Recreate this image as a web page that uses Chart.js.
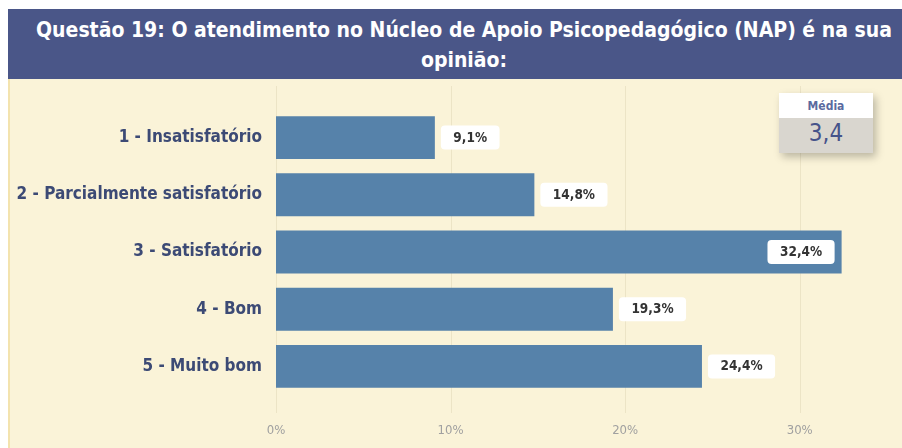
<!DOCTYPE html>
<html>
<head>
<meta charset="utf-8">
<script src="https://cdn.jsdelivr.net/npm/chart.js@4.4.1/dist/chart.umd.min.js"></script>
<style>
  html, body { margin: 0; padding: 0; background: #ffffff; width: 902px; height: 448px; overflow: hidden; }
  #band { position: absolute; left: 8px; top: 9px; width: 894px; height: 70px; background: #4a5688;
          color: #ffffff; text-align: center; font-family: 'DejaVu Sans Condensed', 'Liberation Sans Narrow', sans-serif;
          font-weight: bold; font-size: 21px; line-height: 30px; padding-top: 6px; padding-left: 18px; box-sizing: border-box; }
  #panel { position: absolute; left: 8px; top: 79px; width: 894px; height: 369px; background: #faf3d8;
           border-left: 2px solid #f3e3ae; box-sizing: border-box; }
  #c { position: absolute; left: 8px; top: 79px; }
  #card { position: absolute; left: 779px; top: 93px; width: 94px; height: 60px; box-shadow: 3px 4px 8px rgba(0,0,0,0.25);
          font-family: 'DejaVu Sans Condensed', 'Liberation Sans Narrow', sans-serif; text-align: center; }
  #card .h { background: #ffffff; height: 25px; line-height: 26px; color: #5a6aa0; font-weight: bold; font-size: 12px; }
  #card .v { background: #d9d6cf; height: 35px; line-height: 30px; color: #46538a; font-size: 24px; }
</style>
</head>
<body>
<div id="band">Questão 19: O atendimento no Núcleo de Apoio Psicopedagógico (NAP) é na sua<br>opinião:</div>
<div id="panel"></div>
<canvas id="c" width="894" height="369" style="width:894px;height:369px"></canvas>
<div id="card"><div class="h">Média</div><div class="v">3,4</div></div>
<script>
const categories = ['1 - Insatisfatório', '2 - Parcialmente satisfatório', '3 - Satisfatório', '4 - Bom', '5 - Muito bom'];
const percentValues = [9.1, 14.8, 32.4, 19.3, 24.4];
const xTickValues = [0, 10, 20, 30];

const condensed = "'DejaVu Sans Condensed', 'Liberation Sans Narrow', sans-serif";

const gridPlugin = {
  id: 'extGrid',
  beforeDatasetsDraw(chart) {
    const ctx = chart.ctx, x = chart.scales.x;
    ctx.save();
    ctx.strokeStyle = '#ece4c6';
    ctx.lineWidth = 1;
    xTickValues.forEach(v => {
      const px = Math.round(x.getPixelForValue(v)) + 0.5;
      ctx.beginPath();
      ctx.moveTo(px, chart.chartArea.top - 23);
      ctx.lineTo(px, chart.chartArea.bottom + 18);
      ctx.stroke();
    });
    ctx.restore();
  }
};

const labelPlugin = {
  id: 'boxLabels',
  afterDatasetsDraw(chart) {
    const ctx = chart.ctx;
    const meta = chart.getDatasetMeta(0);
    ctx.save();
    ctx.font = "bold 13.5px " + condensed;
    ctx.textBaseline = 'middle';
    ctx.textAlign = 'center';
    meta.data.forEach((bar, i) => {
      const txt = percentValues[i].toFixed(1).replace('.', ',') + '%';
      const tw = ctx.measureText(txt).width;
      const w = tw + 25, h = 24;
      let left = bar.x + 6;
      if (left + w > chart.chartArea.right) left = bar.x - 7 - w;
      const top = bar.y - h / 2;
      ctx.fillStyle = '#ffffff';
      ctx.beginPath();
      ctx.roundRect(left, top, w, h, 4);
      ctx.fill();
      ctx.fillStyle = '#333333';
      ctx.fillText(txt, left + w / 2, bar.y + 0.5);
    });
    ctx.restore();
  }
};

new Chart(document.getElementById('c'), {
  type: 'bar',
  data: {
    labels: categories,
    datasets: [{
      data: percentValues,
      backgroundColor: '#5682aa',
      borderWidth: 0,
      categoryPercentage: 1,
      barPercentage: 0.75
    }]
  },
  options: {
    indexAxis: 'y',
    responsive: false,
    maintainAspectRatio: false,
    animation: false,
    layout: { padding: { top: 30, right: 15, bottom: 11, left: 0 } },
    plugins: { legend: { display: false }, tooltip: { enabled: false }, title: { display: false } },
    scales: {
      x: {
        min: 0, max: 35,
        afterBuildTicks: s => { s.ticks = xTickValues.map(v => ({ value: v })); },
        afterFit: s => { s.height = 42; },
        grid: { display: false, drawTicks: false },
        border: { display: false },
        ticks: { padding: 28, color: '#a0a0a0', font: { family: condensed, size: 13 }, callback: v => v + '%' }
      },
      y: {
        grid: { display: false, drawTicks: false },
        border: { display: false },
        afterFit: s => { s.width = 268; },
        ticks: { padding: 14, color: '#3c4a75', font: { family: condensed, size: 17, weight: 'bold' } }
      }
    }
  },
  plugins: [gridPlugin, labelPlugin]
});
</script>
</body>
</html>
